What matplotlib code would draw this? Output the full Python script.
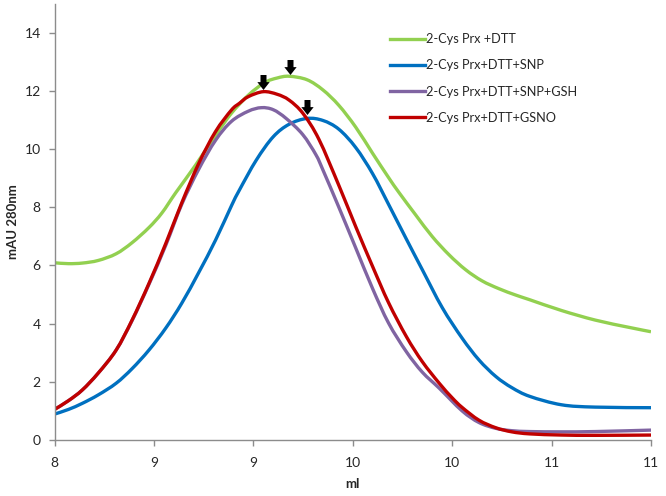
import matplotlib
matplotlib.use("Agg")
import matplotlib.pyplot as plt
from matplotlib.path import Path
from matplotlib.patches import PathPatch
from matplotlib.lines import Line2D

plt.rcParams['font.family'] = ['Lato', 'DejaVu Sans']

labels = ["2-Cys Prx +DTT", "2-Cys Prx+DTT+SNP", "2-Cys Prx+DTT+SNP+GSH", "2-Cys Prx+DTT+GSNO"]
colors = ["#92D050", "#0070C0", "#8064A2", "#C00000"]

green_x = [8.0, 8.07, 8.14, 8.22, 8.31, 8.39, 8.475, 8.54, 8.61, 8.71, 8.81, 8.89, 8.975, 9.056, 9.12,
           9.18, 9.27, 9.35, 9.43, 9.515, 9.6, 9.68, 9.733, 9.817, 9.9, 9.985, 10.068, 10.15, 10.235,
           10.32, 10.39, 10.55, 10.72, 10.89, 11.0]
green_y = [6.09, 6.06, 6.08, 6.17, 6.4, 6.78, 7.3, 7.8, 8.5, 9.45, 10.47, 11.23, 11.85, 12.28, 12.44,
           12.5, 12.38, 12.03, 11.5, 10.75, 9.85, 9.02, 8.5, 7.73, 6.99, 6.36, 5.85, 5.47, 5.2,
           4.98, 4.82, 4.45, 4.12, 3.87, 3.72]

blue_x = [8.0, 8.07, 8.14, 8.22, 8.31, 8.39, 8.475, 8.56, 8.64, 8.725, 8.81, 8.89, 8.93, 9.015, 9.1,
          9.18, 9.27, 9.35, 9.43, 9.515, 9.6, 9.68, 9.77, 9.85, 9.95, 10.05, 10.135, 10.22,
          10.3, 10.39, 10.55, 10.72, 11.0]
blue_y = [0.89, 1.05, 1.26, 1.55, 1.95, 2.45, 3.09, 3.85, 4.70, 5.75, 6.87, 8.05, 8.59, 9.62, 10.42,
          10.85, 11.05, 10.98, 10.68, 10.05, 9.15, 8.1, 6.9, 5.85, 4.55, 3.5, 2.75, 2.18,
          1.8, 1.5, 1.21, 1.13, 1.11]

purple_x = [8.0, 8.07, 8.14, 8.22, 8.31, 8.39, 8.475, 8.56, 8.64, 8.725, 8.81, 8.89, 8.975, 9.04, 9.1,
            9.165, 9.248, 9.315, 9.35, 9.43, 9.515, 9.6, 9.68, 9.77, 9.85, 9.935, 10.05, 10.135,
            10.22, 10.3, 10.39, 10.55, 10.72, 11.0]
purple_y = [1.05, 1.35, 1.72, 2.3, 3.09, 4.1, 5.35, 6.7, 8.1, 9.3, 10.3, 10.95, 11.3, 11.42, 11.35,
            11.05, 10.5, 9.8, 9.28, 8.0, 6.6, 5.2, 4.02, 3.03, 2.33, 1.78, 1.0, 0.6,
            0.4, 0.32, 0.29, 0.28, 0.29, 0.34]

red_x = [8.0, 8.07, 8.14, 8.22, 8.31, 8.39, 8.475, 8.56, 8.64, 8.725, 8.81, 8.89, 8.93, 8.975, 9.05,
         9.12, 9.18, 9.25, 9.33, 9.43, 9.515, 9.6, 9.68, 9.77, 9.85, 9.935, 10.0, 10.05, 10.135,
         10.22, 10.3, 10.39, 10.55, 10.72, 11.0]
red_y = [1.05, 1.35, 1.72, 2.3, 3.09, 4.12, 5.38, 6.76, 8.15, 9.5, 10.6, 11.34, 11.57, 11.8, 11.97,
         11.88, 11.68, 11.22, 10.33, 8.75, 7.33, 5.96, 4.72, 3.55, 2.69, 1.95, 1.45, 1.12, 0.68,
         0.42, 0.28, 0.21, 0.17, 0.16, 0.17]

# peak-marker arrows (centre of arrow glyph)
arrow_x = [9.182, 9.051, 9.268]
arrow_y = [12.82, 12.31, 11.45]

xticks = [8.0, 8.5, 9.0, 9.5, 10.0, 10.5, 11.0]
xticklabels = ["8", "9", "9", "10", "10", "11", "11"]
yticks = [0, 2, 4, 6, 8, 10, 12, 14]


def smooth_path(xs, ys):
    """Excel-style smoothed line: cubic Bezier segments through every data point."""
    pts = list(zip(xs, ys))
    n = len(pts)
    verts = [pts[0]]
    codes = [Path.MOVETO]
    for i in range(n - 1):
        p0 = pts[i - 1] if i > 0 else pts[i]
        p1 = pts[i]
        p2 = pts[i + 1]
        p3 = pts[i + 2] if i + 2 < n else pts[i + 1]
        c1 = (p1[0] + (p2[0] - p0[0]) / 6.0, p1[1] + (p2[1] - p0[1]) / 6.0)
        c2 = (p2[0] - (p3[0] - p1[0]) / 6.0, p2[1] - (p3[1] - p1[1]) / 6.0)
        verts += [c1, c2, p2]
        codes += [Path.CURVE4] * 3
    return Path(verts, codes)


fig = plt.figure(figsize=(6.66, 4.96), dpi=100)
ax = fig.add_axes([54.5 / 666, 56 / 496, (651 - 54.5) / 666, (440 - 3.5) / 496])

series = [(green_x, green_y), (blue_x, blue_y), (purple_x, purple_y), (red_x, red_y)]
handles = []
for (xs, ys), c, lab in zip(series, colors, labels):
    patch = PathPatch(smooth_path(xs, ys), fill=False, edgecolor=c, lw=2.4,
                      capstyle='butt', joinstyle='round')
    ax.add_patch(patch)
    handles.append(Line2D([], [], color=c, lw=2.4, label=lab))

verts = [(-0.4, 1), (0.4, 1), (0.4, 0.05), (0.82, 0.05), (0, -1), (-0.82, 0.05), (-0.4, 0.05), (-0.4, 1)]
codes = [Path.MOVETO] + [Path.LINETO] * 6 + [Path.CLOSEPOLY]
arrow_marker = Path(verts, codes)
ax.plot(arrow_x, arrow_y, linestyle='none', marker=arrow_marker, markersize=10.8,
        color='black', markeredgewidth=0)

ax.set_xlim(8, 11)
ax.set_ylim(0, 15)
ax.set_xticks(xticks)
ax.set_xticklabels(xticklabels)
ax.set_yticks(yticks)

for s in ['top', 'right']:
    ax.spines[s].set_visible(False)
for s in ['left', 'bottom']:
    ax.spines[s].set_color('#8C8C8C')
    ax.spines[s].set_linewidth(1.0)

ax.tick_params(axis='both', direction='out', length=4, width=1.0, color='#8C8C8C',
               labelsize=10, labelcolor='#262626')
ax.tick_params(axis='x', pad=8)
ax.tick_params(axis='y', pad=6)

ax.set_xlabel("ml", fontsize=9.5, fontweight='bold', color='#262626')
ax.set_ylabel("mAU 280nm", fontsize=9.5, fontweight='bold', color='#262626')
ax.yaxis.set_label_coords((19 - 54.5) / 596.5, 0.5)
ax.xaxis.set_label_coords(0.5, -(478 - 440) / 436.5)

leg = ax.legend(handles=handles, loc='upper left', bbox_to_anchor=(390 / 666, 1 - 33 / 496),
                bbox_transform=fig.transFigure, frameon=False, fontsize=9.2,
                handlelength=2.7, handletextpad=0.15, labelspacing=1.12, borderpad=0,
                borderaxespad=0)
for t in leg.get_texts():
    t.set_color('#262626')

fig.savefig("out.png", dpi=100)
